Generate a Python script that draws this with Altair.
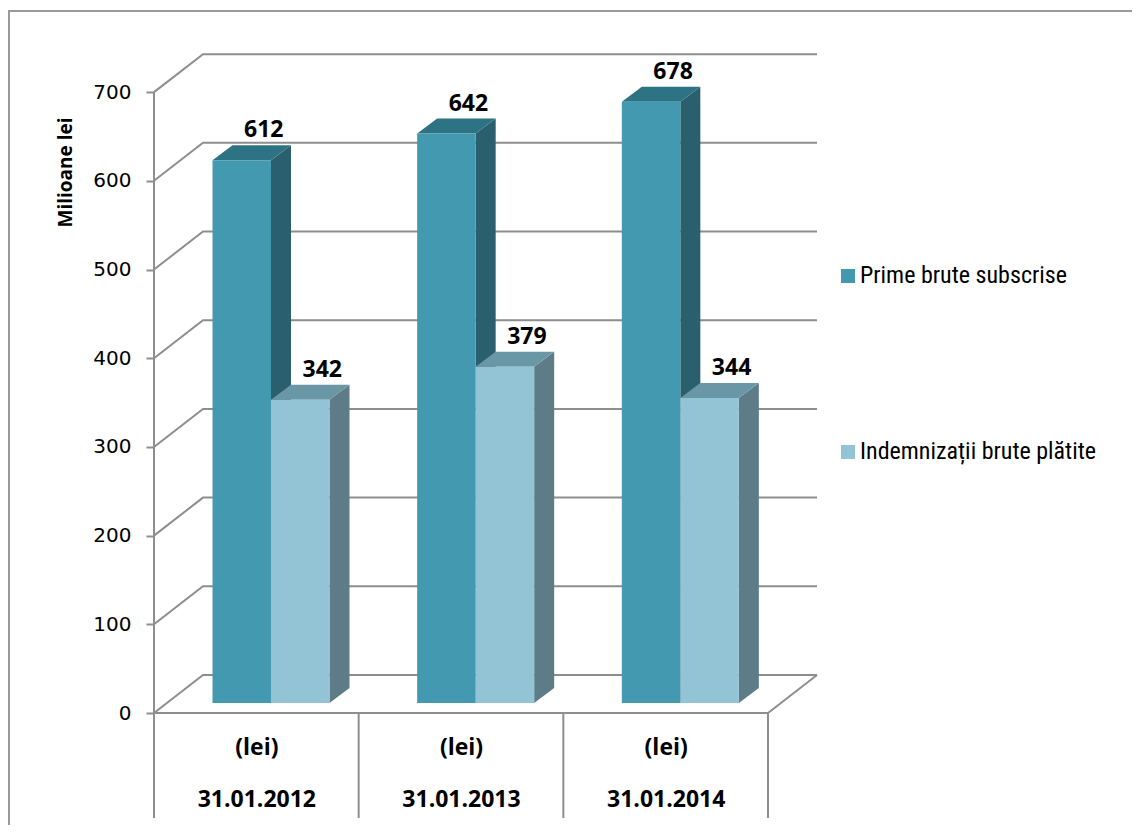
import json
import altair as alt
import pandas as pd

# ---------------- data ----------------
categories = ["31.01.2012", "31.01.2013", "31.01.2014"]
unit_label = "(lei)"
series = ["Prime brute subscrise", "Indemnizații brute plătite"]
prime = [612, 642, 678]
indemn = [342, 379, 344]
y_ticks = [0, 100, 200, 300, 400, 500, 600, 700]

# ---------------- geometry / style ----------------
W, H = 668, 659
X_MAX = 3.2638
Y_MAX = 743
px_x = W / X_MAX
px_y = H / Y_MAX
WALL_DX = 49 / px_x
WALL_DY = 38 / px_y
BAR_DX = 20 / px_x
BAR_DY = 15 / px_y
BAR_BASE = 10 / px_y
BAR_LEFT = 58.5 / px_x
BAR_W = 58.5 / px_x
LABEL_SHIFT = 22 / px_x

front_col = ["#4299b0", "#93c4d6"]
top_col = ["#2e7383", "#6a97a6"]
side_col = ["#2a5f6d", "#5d7c87"]
GRID = "#8e8e8e"
n_cat = len(categories)

xs = alt.Scale(domain=[0, X_MAX], nice=False, zero=False)
ys = alt.Scale(domain=[0, Y_MAX], nice=False, zero=False)

x_axis = alt.Axis(
    values=[i + 0.5 for i in range(n_cat)],
    labelExpr=f"['{unit_label}', {json.dumps(categories)}[floor(datum.value)]]",
    domain=False, ticks=False, grid=False, title="",
    labelFont="Open Sans", labelFontWeight="bold", labelFontSize=23,
    labelColor="black", labelLineHeight=52, labelBaseline="top",
    labelPadding=23, labelAngle=0, labelOverlap=False, labelFlush=False,
)
y_axis = alt.Axis(
    values=y_ticks, domain=False, grid=False, ticks=True, tickSize=8,
    tickColor=GRID, tickWidth=2, labelFont="DejaVu Sans", labelFontSize=20,
    labelColor="black", labelPadding=15, title="Milioane lei",
    titleFont="Open Sans", titleFontWeight="bold", titleFontSize=19,
    titleColor="black", titleX=-89, titleY=118, titleAngle=270,
    titleBaseline="middle", titleAlign="center",
)

# ---------------- tables ----------------
grid_rows = []
for v in y_ticks:
    pts = [(0, v), (WALL_DX, v + WALL_DY), (n_cat + WALL_DX, v + WALL_DY)]
    for k, (x, y) in enumerate(pts):
        grid_rows.append({"g": f"g{v}", "o": k, "x": x, "y": y})
# floor front edge + right slant
for k, (x, y) in enumerate([(0, 0), (n_cat, 0), (n_cat + WALL_DX, WALL_DY)]):
    grid_rows.append({"g": "floor", "o": k, "x": x, "y": y})
# left wall front edge
for k, (x, y) in enumerate([(0, 0), (0, y_ticks[-1])]):
    grid_rows.append({"g": "wall", "o": k, "x": x, "y": y})
grid_df = pd.DataFrame(grid_rows)

div_df = pd.DataFrame({"x": list(range(n_cat + 1)), "y": [0] * (n_cat + 1)})

front_rows, side_rows, top_rows, label_rows = [], [], [], []
for i in range(n_cat):
    for s, vals in enumerate([prime, indemn]):
        v = vals[i]
        x0 = i + BAR_LEFT + s * BAR_W
        x1 = x0 + BAR_W
        yb = BAR_BASE
        yt = v + BAR_BASE
        bid = f"b{i}_{s}"
        front_rows.append({"series": series[s], "x0": x0, "x1": x1, "yb": yb, "yt": yt})
        side_rows += [
            {"bar": bid, "fill": side_col[s], "x": x1, "yt": yt, "yb": yb},
            {"bar": bid, "fill": side_col[s], "x": x1 + BAR_DX, "yt": yt + BAR_DY, "yb": yb + BAR_DY},
        ]
        top_rows += [
            {"bar": bid, "fill": top_col[s], "y": yt, "xa": x0, "xb": x1},
            {"bar": bid, "fill": top_col[s], "y": yt + BAR_DY, "xa": x0 + BAR_DX, "xb": x1 + BAR_DX},
        ]
        label_rows.append({"x": (x0 + x1) / 2 + LABEL_SHIFT, "y": yt, "v": v})

front_df = pd.DataFrame(front_rows)
side_df = pd.DataFrame(side_rows)
top_df = pd.DataFrame(top_rows)
label_df = pd.DataFrame(label_rows)

# ---------------- layers ----------------
frame_top = alt.Chart(div_df.head(1)).mark_rule(color="#9a9a9a", strokeWidth=2).encode(
    x=alt.value(-146), x2=alt.value(W + 310), y=alt.value(-43))
frame_left = alt.Chart(div_df.head(1)).mark_rule(color="#9a9a9a", strokeWidth=2).encode(
    x=alt.value(-145), y=alt.value(-43), y2=alt.value(H + 130))

grid = alt.Chart(grid_df).mark_line(color=GRID, strokeWidth=2).encode(
    x=alt.X("x:Q", scale=xs, axis=x_axis),
    y=alt.Y("y:Q", scale=ys, axis=y_axis),
    detail="g:N", order="o:Q")

dividers = alt.Chart(div_df).mark_rule(color=GRID, strokeWidth=2).encode(
    x=alt.X("x:Q", scale=xs, axis=x_axis),
    y=alt.Y("y:Q", scale=ys, axis=y_axis),
    y2=alt.value(H + 105))

side = alt.Chart(side_df).mark_area(orient="vertical", opacity=1).encode(
    x=alt.X("x:Q", scale=xs, axis=x_axis),
    y=alt.Y("yt:Q", scale=ys, axis=y_axis, stack=False),
    y2="yb:Q",
    detail="bar:N",
    color=alt.Color("fill:N", scale=None))

top = alt.Chart(top_df).mark_area(orient="horizontal", opacity=1).encode(
    y=alt.Y("y:Q", scale=ys, axis=y_axis),
    x=alt.X("xa:Q", scale=xs, axis=x_axis, stack=False),
    x2="xb:Q",
    detail="bar:N",
    color=alt.Color("fill:N", scale=None))

front = alt.Chart(front_df).mark_rect(opacity=1).encode(
    x=alt.X("x0:Q", scale=xs, axis=x_axis),
    x2="x1:Q",
    y=alt.Y("yb:Q", scale=ys, axis=y_axis),
    y2="yt:Q",
    color=alt.Color("series:N",
                    scale=alt.Scale(domain=series, range=front_col),
                    legend=alt.Legend(orient="none", legendX=682, legendY=210,
                                      title=None, symbolType="square",
                                      symbolSize=196, symbolStrokeWidth=0,
                                      symbolOpacity=1,
                                      labelFont="Liberation Sans Narrow, Arial Narrow, Roboto Condensed, sans-serif",
                                      labelFontSize=24, labelColor="black",
                                      labelOffset=0, rowPadding=152, padding=0,
                                      labelLimit=400)))

labels = alt.Chart(label_df).mark_text(
    font="Open Sans", fontWeight="bold", fontSize=23, color="black",
    baseline="alphabetic", align="center", dy=-23).encode(
    x=alt.X("x:Q", scale=xs, axis=x_axis),
    y=alt.Y("y:Q", scale=ys, axis=y_axis),
    text=alt.Text("v:Q", format="d"))

chart = alt.layer(frame_top, frame_left, grid, dividers, side, top, front, labels).properties(
    width=W, height=H,
    autosize=alt.AutoSizeParams(type="none"),
    padding={"left": 146, "top": 46, "right": 310, "bottom": 112},
    background="white",
).configure_view(strokeWidth=0)

chart.save("out.html", embed_options={"renderer": "svg", "actions": False})
